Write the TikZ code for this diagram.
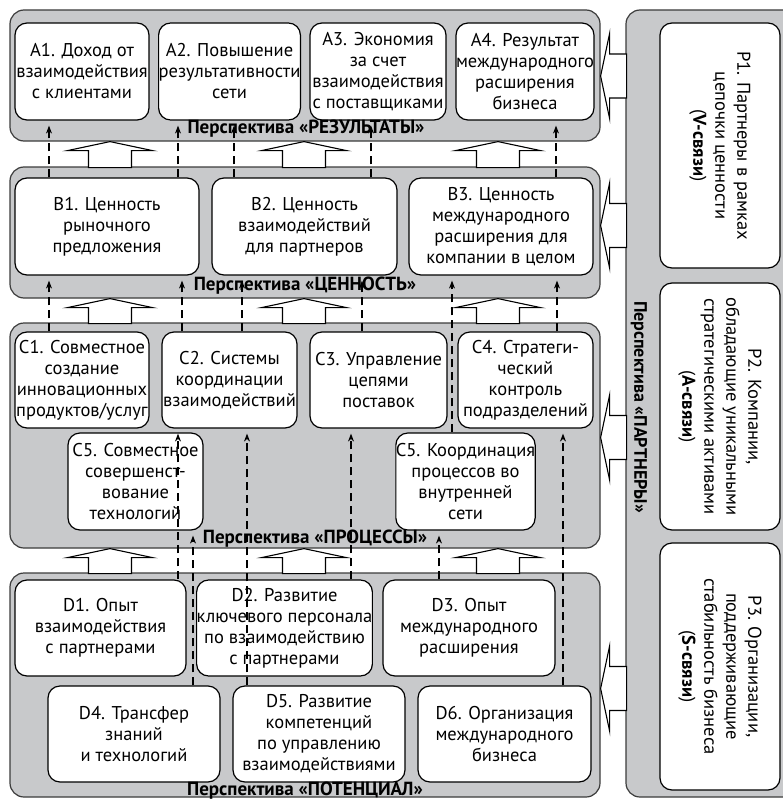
\documentclass[tikz,border=0pt]{standalone}
\usepackage{fontspec}
\setmainfont{PT Sans}
\usetikzlibrary{arrows.meta,calc}
\definecolor{panelgray}{RGB}{200,201,203}
\definecolor{edgegray}{RGB}{60,60,60}

\tikzset{
  panel/.style={draw=edgegray, line width=1.2pt, fill=panelgray, rounded corners=14pt, inner sep=0pt},
  cell/.style={draw=black, line width=1.2pt, fill=white, rounded corners=12pt, inner sep=0pt,
    align=center, font=\fontsize{18.5}{21}\selectfont},
  pcell/.style={cell, rotate=-90, font=\fontsize{18.5}{22}\selectfont},
  ptitle/.style={font=\bfseries\fontsize{19}{21}\selectfont, inner sep=0pt},
  link/.style={line width=1.1pt, dash pattern=on 8pt off 5pt,
    -{Stealth[length=8pt,width=6pt]}, shorten >=5pt},
  blk/.style={draw=black, line width=1.1pt, fill=white, line join=miter},
  uparr/.pic={\path[blk] (0,0) -- (42.5,9) -- (21.5,9) -- (21.5,#1) -- (-21.5,#1)
    -- (-21.5,9) -- (-42.5,9) -- cycle;},
  leftarr/.pic={\path[blk] (0,0) -- (9,-42.5) -- (9,-22) -- (#1,-22) -- (#1,22)
    -- (9,22) -- (9,42.5) -- cycle;},
}

\begin{document}
\begin{tikzpicture}[x=1pt,y=-1pt]
\useasboundingbox (0,0) rectangle (783,800);

% perspective panels
\node[panel, minimum width=590pt, minimum height=131pt] (pA) at (305,75.5) {};
\node[panel, minimum width=590pt, minimum height=131pt] (pB) at (305,232.5) {};
\node[panel, minimum width=590pt, minimum height=225pt] (pC) at (305,435.5) {};
\node[panel, minimum width=590pt, minimum height=224pt] (pD) at (305,685) {};
\node[panel, minimum width=174pt, minimum height=787pt] (pP) at (713,403.5) {};

% wide arrows between the perspectives
\foreach \cx in {110,304,498}{
  \pic at (pA.south -| \cx,0) {uparr=26};
  \pic at (pB.south -| \cx,0) {uparr=25};
  \pic at (pC.south -| \cx,0) {uparr=25};
}
\pic at (pA.east |- 0,76)    {leftarr=26};
\pic at (pB.east |- 0,225.5) {leftarr=26};
\pic at (pC.east |- 0,437.5) {leftarr=26};
\pic at (pD.east |- 0,688.5) {leftarr=26};

% results
\node[cell, minimum width=134pt, minimum height=97pt] (a1) at (82,71.5) {A1. Доход от\\взаимодействия\\с клиентами};
\node[cell, minimum width=135pt, minimum height=97pt] (a2) at (229.5,71.5) {A2. Повышение\\результативности\\сети};
\node[cell, minimum width=136pt, minimum height=97pt] (a3) at (378,71.5) {A3. Экономия\\за счет\\взаимодействия\\с поставщиками};
\node[cell, minimum width=136pt, minimum height=97pt] (a4) at (525,71.5) {A4. Результат\\международного\\расширения\\бизнеса};

% value
\node[cell, minimum width=184pt, minimum height=97pt] (b1) at (107,226.5) {B1. Ценность\\рыночного\\предложения};
\node[cell, minimum width=185pt, minimum height=97pt] (b2) at (304.5,226.5) {B2. Ценность\\взаимодействий\\для партнеров};
\node[cell, minimum width=184pt, minimum height=97pt] (b3) at (501,226.5) {B3. Ценность\\международного\\расширения для\\компании в целом};

% processes
\node[cell, minimum width=134pt, minimum height=96pt] (c1) at (82,380) {C1. Совместное\\создание\\инновационных\\продуктов/услуг};
\node[cell, minimum width=135pt, minimum height=96pt] (c2) at (229.5,380) {C2. Системы\\координации\\взаимодействий};
\node[cell, minimum width=137pt, minimum height=96pt] (c3) at (378.5,380) {C3. Управление\\цепями\\поставок};
\node[cell, minimum width=135pt, minimum height=96pt] (c4) at (525.5,380) {C4. Стратеги-\\ческий\\контроль\\подразделений};
\node[cell, minimum width=135pt, minimum height=97pt] (c5) at (135.5,481.5) {C5. Совместное\\совершенст-\\вование\\технологий};
\node[cell, minimum width=137pt, minimum height=97pt] (c6) at (465.5,481.5) {C5. Координация\\процессов во\\внутренней\\сети};

% potential
\node[cell, minimum width=171pt, minimum height=96pt] (d1) at (100.5,628) {D1. Опыт\\взаимодействия\\с партнерами};
\node[cell, minimum width=173pt, minimum height=96pt] (d2) at (284.5,628) {D2. Развитие\\ключевого персонала\\по взаимодействию\\с партнерами};
\node[cell, minimum width=172pt, minimum height=96pt] (d3) at (469,628) {D3. Опыт\\международного\\расширения};
\node[cell, minimum width=172pt, minimum height=96pt] (d4) at (134,734) {D4. Трансфер\\знаний\\и технологий};
\node[cell, minimum width=172pt, minimum height=96pt] (d5) at (319,734) {D5. Развитие\\компетенций\\по управлению\\взаимодействиями};
\node[cell, minimum width=173pt, minimum height=96pt] (d6) at (504.5,734) {D6. Организация\\международного\\бизнеса};

% partners
\node[pcell, minimum width=245pt, minimum height=120pt] (p1) at (720,145.5) {P1. Партнеры в рамках\\цепочки ценности\\(\textbf{V-связи})};
\node[pcell, minimum width=247pt, minimum height=120pt] (p2) at (720,406.5) {P2. Компании,\\обладающие уникальными\\стратегическими активами\\(\textbf{A-связи})};
\node[pcell, minimum width=247pt, minimum height=120pt] (p3) at (720,666.5) {P3. Организации,\\поддерживающие\\стабильность бизнеса\\(\textbf{S-связи})};

% perspective titles
\node[ptitle] (tA) at (306,129) {Перспектива «РЕЗУЛЬТАТЫ»};
\node[ptitle] (tB) at (305,286) {Перспектива «ЦЕННОСТЬ»};
\node[ptitle] (tC) at (315,538.5) {Перспектива «ПРОЦЕССЫ»};
\node[ptitle] (tD) at (305,791) {Перспектива «ПОТЕНЦИАЛ»};
\node[ptitle, font=\bfseries\fontsize{18}{21}\selectfont, rotate=-90] (tP) at (639,407) {Перспектива «ПАРТНЕРЫ»};

% influence links: value -> results
\draw[link] (b1.north -| 49,0)  -- (a1.south -| 49,0);
\draw[link] (b1.north -| 178,0) -- (a2.south -| 178,0);
\draw[link] (b2.north -| 234,0) -- (a2.south -| 234,0);
\draw[link] (b2.north -| 371,0) -- (a3.south -| 371,0);
\draw[link] (b3.north -| 556,0) -- (a4.south -| 556,0);
% processes -> value
\draw[link] (c1.north -| 49,0)  -- (b1.south -| 49,0);
\draw[link] (c2.north -| 182,0) -- (b1.south -| 182,0);
\draw[link] (c2.north -| 242,0) -- (b2.south -| 242,0);
\draw[link] (c3.north -| 362,0) -- (b2.south -| 362,0);
\draw[link] (c6.north -| 452,0) -- (b3.south -| 452,0);
\draw[link] (c4.north -| 557,0) -- (b3.south -| 557,0);
% potential -> processes
\draw[link] (d1.north -| 178,0) -- (c2.south -| 178,0);
\draw[link] (d4.north -| 193,0) -- (c5.south -| 193,0);
\draw[link] (d5.north -| 247,0) -- (c2.south -| 247,0);
\draw[link] (d2.north -| 351,0) -- (c3.south -| 351,0);
\draw[link] (d3.north -| 439,0) -- (c6.south -| 439,0);
\draw[link] (d6.north -| 563,0) -- (c4.south -| 563,0);
\end{tikzpicture}
\end{document}
